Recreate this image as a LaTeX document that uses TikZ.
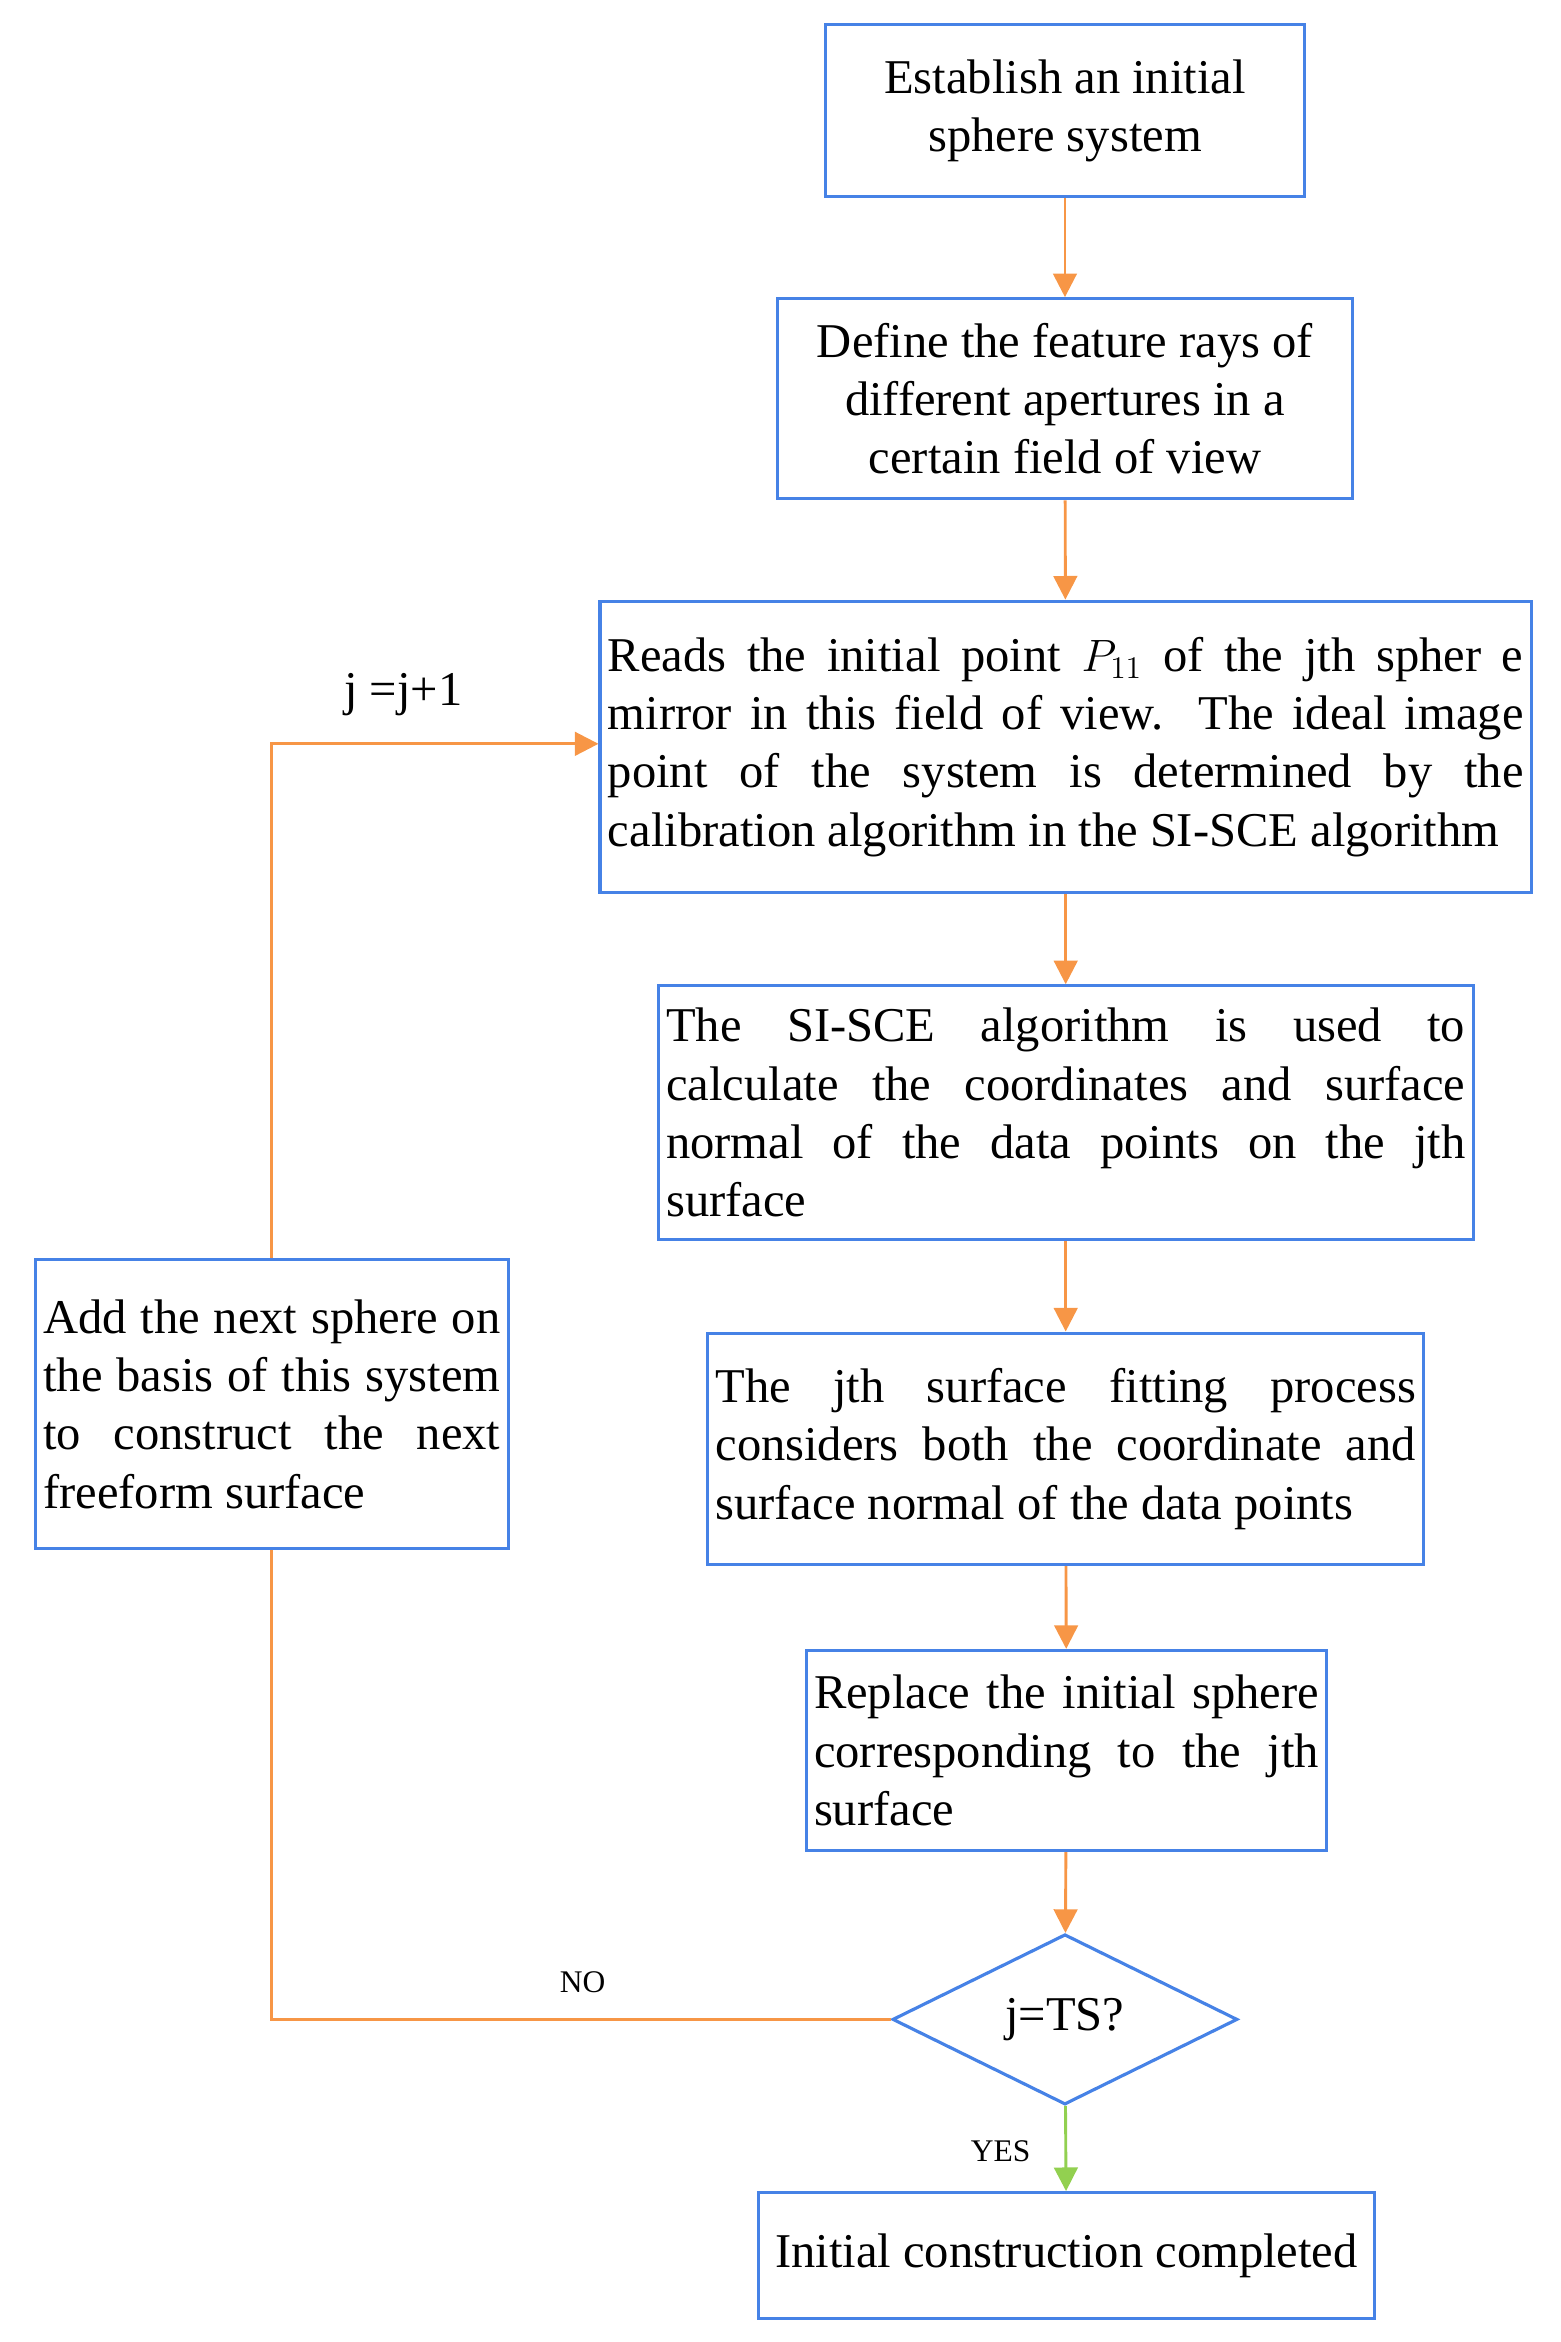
\documentclass[tikz,border=0pt]{standalone}
\usepackage{fontspec}
\setmainfont{Liberation Serif}
\usetikzlibrary{shapes.geometric,arrows.meta}
\definecolor{bx}{RGB}{70,130,230}
\definecolor{ar}{RGB}{247,150,70}
\definecolor{gr}{RGB}{146,208,80}
\newcommand\myfnt{\fontsize{18.5}{22.2}\selectfont\hyphenpenalty=10000 \exhyphenpenalty=10000 \relax}
\begin{document}
\begin{tikzpicture}[x=0.02cm,y=-0.02cm,
 box/.style={draw=bx,line width=1.2pt,inner sep=3pt,font=\myfnt},
 jb/.style={box,align=justify},
 cb/.style={box,align=center},
 ln/.style={draw=ar,line width=1.1pt},
 arr/.style={ln,-{Triangle[length=9pt,width=9pt]}},
 lab/.style={font=\fontsize{18.5}{22}\selectfont}]
\useasboundingbox (0,0) rectangle (1045,1568);
\node[cb,minimum width=321*0.02cm,minimum height=115*0.02cm] (b1) at (713,74) {Establish an initial\\sphere system};
\node[cb,minimum width=385*0.02cm,minimum height=134*0.02cm] (b2) at (713,267) {Define the feature rays of\\different apertures in a\\certain field of view};
\node[jb,text width=613*0.02cm,minimum height=195*0.02cm] (b3) at (713.5,500) {Reads the initial point $P_{11}$ of the jth spher e\linebreak mirror in this field of view. The ideal image\linebreak point of the system is determined by the\linebreak calibration algorithm in the SI-SCE algorithm};
\node[jb,text width=535*0.02cm,minimum height=170*0.02cm] (b4) at (713.5,745) {The SI-SCE algorithm is used to\linebreak calculate the coordinates and surface\linebreak normal of the data points on the jth\linebreak surface};
\node[jb,text width=469*0.02cm,minimum height=155*0.02cm] (b5) at (713.5,970) {The jth surface fitting process\linebreak considers both the coordinate and\linebreak surface normal of the data points};
\node[jb,text width=338*0.02cm,minimum height=134*0.02cm] (b6) at (714,1172) {Replace the initial sphere\linebreak corresponding to the jth\linebreak surface};
\node[diamond,draw=bx,line width=1.2pt,minimum width=231*0.02cm,minimum height=114*0.02cm,inner sep=0pt,aspect=2,font=\fontsize{18.5}{22}\selectfont] (d) at (713,1352) {j=TS?};
\node[cb,minimum width=412*0.02cm,minimum height=84*0.02cm] (b8) at (714,1510) {Initial construction completed};
\node[jb,text width=306*0.02cm,minimum height=194*0.02cm] (L) at (182,940) {Add the next sphere on\linebreak the basis of this system\linebreak to construct the next\linebreak freeform surface};
\draw[arr] (b1) -- (b2);
\draw[arr] (b2) -- (b3);
\draw[arr] (b3) -- (b4);
\draw[arr] (b4) -- (b5);
\draw[arr] (b5) -- (b6);
\draw[arr] (b6) -- (d);
\draw[line width=1.1pt,draw=gr,-{Triangle[length=9pt,width=9pt]}] (d) -- (b8);
\coordinate (c1) at (182,498);
\coordinate (c2) at (182,1352);
\draw[arr] (L.north) -- (c1) -- (b3.west|-c1);
\draw[ln] (d.west) -- (c2) -- (L.south);
\node[lab] (t1) at (270,465) {j =j+1};
\node[font=\fontsize{12}{14}\selectfont] (t2) at (390,1327) {NO};
\node[font=\fontsize{12}{14}\selectfont] (t3) at (670,1440) {YES};
\end{tikzpicture}
\end{document}
